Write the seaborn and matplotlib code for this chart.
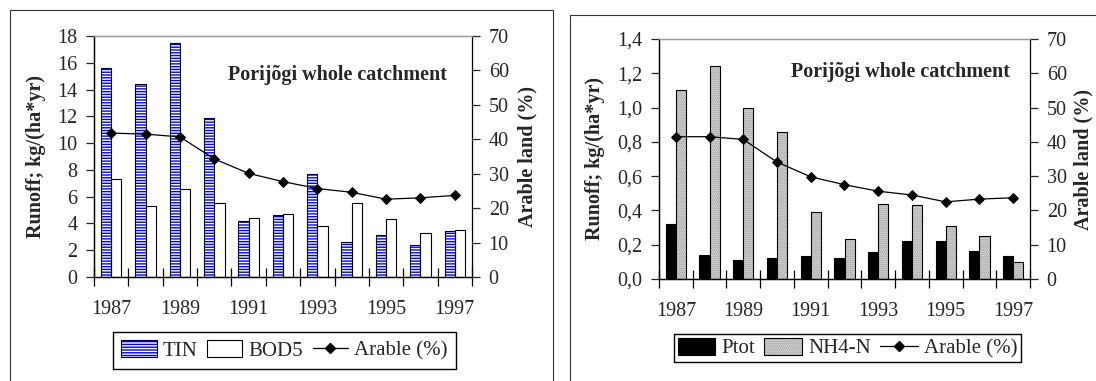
import numpy as np
import pandas as pd
import matplotlib
matplotlib.use("Agg")
import matplotlib.pyplot as plt
from matplotlib.patches import Rectangle, Patch
from matplotlib.lines import Line2D
import seaborn as sns

years = ["1987", "1988", "1989", "1990", "1991", "1992", "1993", "1994", "1995", "1996", "1997"]
tin = [15.6, 14.4, 17.5, 11.9, 4.2, 4.6, 7.7, 2.6, 3.1, 2.4, 3.4]
bod5 = [7.3, 5.3, 6.6, 5.5, 4.4, 4.7, 3.8, 5.5, 4.3, 3.3, 3.5]
arable_left = [41.8, 41.5, 40.7, 34.3, 30.1, 27.7, 25.7, 24.6, 22.6, 23.0, 23.7]
ptot = [0.32, 0.14, 0.11, 0.125, 0.135, 0.125, 0.155, 0.22, 0.22, 0.165, 0.135]
nh4n = [1.10, 1.245, 1.00, 0.86, 0.39, 0.235, 0.44, 0.43, 0.31, 0.25, 0.10]
arable_right = [41.5, 41.5, 40.7, 34.1, 29.8, 27.5, 25.6, 24.5, 22.5, 23.3, 23.7]

title = "Porijõgi whole catchment"
ylabel_left = "Runoff; kg/(ha*yr)"
ylabel_right = "Arable land (%)"
line_label = "Arable (%)"

sns.set_style("ticks")
plt.rcParams["font.family"] = ["Liberation Serif", "DejaVu Serif"]
plt.rcParams["hatch.linewidth"] = 1.0

W, H = 1096, 381
fig = plt.figure(figsize=(W / 100, H / 100), dpi=100)

# styles per series: (face, hatch, hatchcolor)
styles = {
    "TIN": ("#0000ff", "------", "white"),
    "BOD5": ("white", None, None),
    "Ptot": ("black", None, None),
    "NH4-N": ("#efefef", "........", "#888888"),
}


def style_bars(ax, names):
    for cont, name in zip(ax.containers, names):
        face, hatch, hc = styles[name]
        for p in cont.patches:
            if hatch:
                p.set_facecolor(face)
                p.set_hatch(hatch)
                p.set_edgecolor(hc)
                p.set_linewidth(0)
                ax.add_patch(Rectangle(p.get_xy(), p.get_width(), p.get_height(),
                                       fill=False, edgecolor="black", lw=0.8, zorder=p.get_zorder() + 0.1))


def legend_handle(name):
    face, hatch, hc = styles[name]
    if hatch:
        return (Patch(facecolor=face, edgecolor=hc, hatch=hatch, lw=0),
                Patch(facecolor="none", edgecolor="black", lw=0.8))
    return Patch(facecolor=face, edgecolor="black", lw=0.8)


def make_panel(rect, s1, s2, v1, v2, arable, ymax, ystep, fmt, title_xy, lab_x, leg_xy, leg_pad, hlen):
    ax = fig.add_axes(rect)
    df = pd.DataFrame({
        "year": years * 2,
        "series": [s1] * len(years) + [s2] * len(years),
        "value": list(v1) + list(v2),
    })
    pal = {s1: styles[s1][0], s2: styles[s2][0]}
    sns.barplot(data=df, x="year", y="value", hue="series", hue_order=[s1, s2],
                palette=pal, saturation=1, width=0.6, gap=0, edgecolor="black",
                linewidth=0.8, legend=False, ax=ax, zorder=2)
    style_bars(ax, [s1, s2])
    ax.set_ylim(0, ymax)
    ax.set_yticks(np.arange(0, ymax + ystep / 2, ystep))
    ax.yaxis.set_major_formatter(plt.FuncFormatter(fmt))

    ax2 = ax.twinx()
    sns.pointplot(x=years, y=arable, ax=ax2, color="black", markers="D",
                  markersize=5, linewidth=0.9, errorbar=None)
    ax2.set_ylim(0, 70)
    ax2.set_yticks(np.arange(0, 71, 10))
    ax2.set_ylabel(ylabel_right, fontsize=14.5, fontweight="bold")
    ax2.yaxis.set_label_coords(lab_x[1], 0.5)
    ax2.yaxis.label.set_verticalalignment("center")

    ax.set_xlim(-0.5, len(years) - 0.5)
    ax.set_xticks(np.arange(-0.5, len(years), 1))
    ax.set_xticklabels([""] * (len(years) + 1))
    ax.set_xticks(np.arange(0, len(years), 2), labels=years[::2], minor=True)
    ax.tick_params(axis="x", which="major", direction="inout", length=13, width=0.9, color="black")
    ax.tick_params(axis="x", which="minor", length=0, pad=16.5, labelsize=14.5)
    ax.tick_params(axis="y", direction="out", length=6, width=0.9, pad=6, labelsize=14.5)
    ax2.tick_params(axis="y", direction="out", length=6, width=0.9, pad=6, labelsize=14.5)
    ax.set_xlabel("")
    ax.set_ylabel(ylabel_left, fontsize=14.5, fontweight="bold")
    ax.yaxis.set_label_coords(lab_x[0], 0.5)
    ax.yaxis.label.set_verticalalignment("center")

    for a in (ax, ax2):
        for sp in ("left", "right", "bottom"):
            a.spines[sp].set_color("black")
            a.spines[sp].set_linewidth(0.9)
        a.spines["top"].set_color("#9a9a9a")
        a.spines["top"].set_linewidth(0.9)
    ax.spines["right"].set_visible(False)

    ax2.text(title_xy[0], title_xy[1], title, transform=ax.transAxes, ha="center",
             va="center", fontsize=14.5, fontweight="bold")

    handles = [legend_handle(s1), legend_handle(s2),
               Line2D([], [], color="black", marker="D", markersize=5, lw=0.9)]
    fig.legend(handles, [s1, s2, line_label], loc="center", bbox_to_anchor=leg_xy,
               bbox_transform=fig.transFigure, ncol=3, fontsize=15, frameon=True,
               fancybox=False, edgecolor="black", framealpha=1, borderpad=leg_pad,
               handlelength=hlen, handleheight=0.9, handletextpad=0.3, columnspacing=0.45)
    return ax, ax2


make_panel([94 / W, 1 - 277 / H, 378 / W, 241 / H], "TIN", "BOD5", tin, bod5, arable_left,
           18, 2, lambda v, p: f"{v:.0f}", (0.643, 0.838), (-0.153, 1.1455),
           (284.5 / W, 1 - 350.5 / H), 0.4, 1.7)
make_panel([659 / W, 1 - 279 / H, 371 / W, 240 / H], "Ptot", "NH4-N", ptot, nh4n, arable_right,
           1.4, 0.2, lambda v, p: f"{v:.1f}".replace(".", ","), (0.65, 0.8625), (-0.1725, 1.143),
           (847.5 / W, 1 - 348 / H), 0.15, 1.8)

# outer frames
fig.patches.append(Rectangle((10 / W, -0.1), (553 - 10) / W, 1 - 10.5 / H + 0.1, fill=False,
                             edgecolor="#333333", lw=0.8, transform=fig.transFigure, figure=fig))
fig.patches.append(Rectangle((569.5 / W, -0.1), 0.6, 1 - 14.5 / H + 0.1, fill=False,
                             edgecolor="#333333", lw=0.8, transform=fig.transFigure, figure=fig))

fig.savefig("out.png", dpi=100)
